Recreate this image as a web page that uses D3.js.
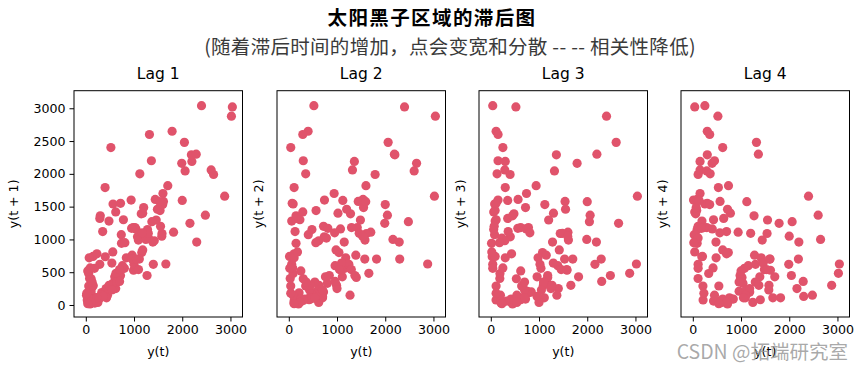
<!DOCTYPE html>
<html>
<head>
<meta charset="utf-8">
<script src="https://cdn.jsdelivr.net/npm/d3@7"></script>
<style>
  html, body { margin: 0; padding: 0; background: #fff; }
  svg { display: block; }
</style>
</head>
<body>
<svg id="chart" width="863" height="370"></svg>
<script>
// Annual sunspot area, 1875-2015
const sunspotArea = [
  213, 109, 187, 29, 78, 404, 736, 1072, 1040, 1160, 800, 560, 330, 190, 90,
  60, 480, 1280, 1150, 1390, 960, 760, 600, 430, 210, 110, 40,
  60, 290, 620, 1420, 980, 1180, 840, 720, 450, 200, 90, 15,
  150, 740, 940, 1600, 1700, 1820, 1110, 700, 430, 110,
  230, 780, 1300, 1020, 1180, 1400, 620, 420, 250, 80,
  90, 565, 1540, 1440, 1610, 1580, 1090, 990, 530, 300, 110,
  400, 1790, 2650, 1990, 2160, 1245, 1000, 620, 250, 40,
  520, 2400, 3040, 3020, 2880, 1660, 625, 483, 300, 110, 70,
  720, 1550, 1200, 1485, 1460, 1296, 1093, 540, 640, 350, 150,
  290, 1320, 2600, 2060, 2045, 2480, 1370, 1270, 450, 150,
  300, 1360, 2200, 2190, 2290, 2300, 960, 700, 360, 130,
  350, 1120, 2000, 1595, 1531, 1576, 1050, 700, 540, 230, 110, 40, 20,
  180, 560, 810, 950, 1170, 1100
];
const lags = [1, 2, 3, 4];
const panelTitles = ["Lag 1", "Lag 2", "Lag 3", "Lag 4"];
const yLabels = ["y(t + 1)", "y(t + 2)", "y(t + 3)", "y(t + 4)"];
const xLabel = "y(t)";
const tickValues = [0, 1000, 2000, 3000];
const yTickValues = [0, 500, 1000, 1500, 2000, 2500, 3000];
const mainTitle = "太阳黑子区域的滞后图";
const subTitle = "(随着滞后时间的增加，点会变宽和分散 -- -- 相关性降低)";
const watermark = "CSDN @拓端研究室";

const svg = d3.select("#chart");
const panelLeft = [74, 277, 479, 681];
const panelTop = 90.7, panelW = 168.5, panelH = 226.3;
const markerColor = "#e0536b";
const latin = "'DejaVu Sans', sans-serif";
const cjk = "'Noto Sans CJK SC', 'Noto Sans', sans-serif";

const x = d3.scaleLinear().domain([-245, 3250]).range([0, panelW]);
const y = d3.scaleLinear().domain([-183, 3268]).range([panelH, 0]);

svg.append("text")
  .attr("x", 432).attr("y", 24.5)
  .attr("text-anchor", "middle")
  .style("font-family", cjk).style("font-size", "19.5px").style("font-weight", "bold")
  .style("letter-spacing", "1.4px")
  .attr("fill", "#000")
  .text(mainTitle);
svg.append("text")
  .attr("x", 450).attr("y", 53.5)
  .attr("text-anchor", "middle")
  .style("font-family", cjk).style("font-size", "19.5px")
  .style("letter-spacing", "0.3px")
  .attr("fill", "#3a3a3a")
  .text(subTitle);

lags.forEach((lag, i) => {
  const g = svg.append("g").attr("transform", `translate(${panelLeft[i]},${panelTop})`);
  const pts = d3.range(0, sunspotArea.length - lag).map(k => [sunspotArea[k], sunspotArea[k + lag]]);

  g.selectAll("circle").data(pts).enter().append("circle")
    .attr("cx", d => x(d[0])).attr("cy", d => y(d[1]))
    .attr("r", 4.6).attr("fill", markerColor);

  g.append("rect").attr("width", panelW).attr("height", panelH)
    .attr("fill", "none").attr("stroke", "#000").attr("stroke-width", 1);

  const xa = g.append("g").attr("transform", `translate(0,${panelH})`)
    .call(d3.axisBottom(x).tickValues(tickValues).tickSize(4.5).tickPadding(4).tickFormat(d3.format("d")));
  xa.select(".domain").remove();
  xa.selectAll("text").style("font-family", latin).style("font-size", "12.6px").attr("fill", "#000");

  if (i === 0) {
    const ya = g.append("g")
      .call(d3.axisLeft(y).tickValues(yTickValues).tickSize(4.5).tickPadding(4).tickFormat(d3.format("d")));
    ya.select(".domain").remove();
    ya.selectAll("text").style("font-family", latin).style("font-size", "12.6px").attr("fill", "#000");
  }

  g.append("text")
    .attr("x", panelW / 2).attr("y", -12)
    .attr("text-anchor", "middle")
    .style("font-family", latin).style("font-size", "15.5px")
    .text(panelTitles[i]);

  g.append("text")
    .attr("x", panelW / 2).attr("y", panelH + 39)
    .attr("text-anchor", "middle")
    .style("font-family", latin).style("font-size", "12.6px")
    .text(xLabel);

  const ylx = i === 0 ? -56 : -14;
  g.append("text")
    .attr("transform", `translate(${ylx},${panelH / 2}) rotate(-90)`)
    .attr("text-anchor", "middle")
    .style("font-family", latin).style("font-size", "12.6px")
    .text(yLabels[i]);
});

svg.append("text")
  .attr("x", 848).attr("y", 359)
  .attr("text-anchor", "end")
  .style("font-family", cjk).style("font-size", "19.5px")
  .attr("fill", "#9a9a9a").attr("fill-opacity", 0.85)
  .text(watermark);
</script>
</body>
</html>
